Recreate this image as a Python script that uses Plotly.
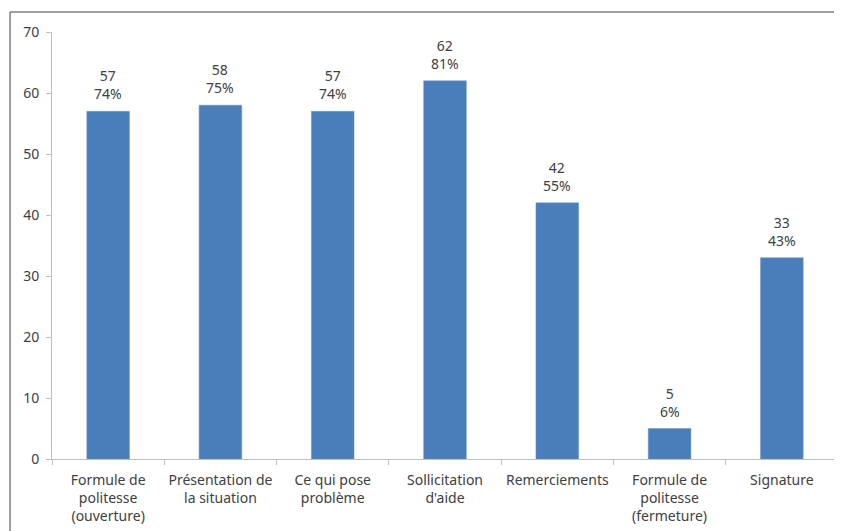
import plotly.graph_objects as go

categories = [
    "Formule de<br>politesse<br>(ouverture)",
    "Présentation de<br>la situation",
    "Ce qui pose<br>problème",
    "Sollicitation<br>d'aide",
    "Remerciements",
    "Formule de<br>politesse<br>(fermeture)",
    "Signature",
]
counts = [57, 58, 57, 62, 42, 5, 33]
percents = ["74%", "75%", "74%", "81%", "55%", "6%", "43%"]
y_ticks = [0, 10, 20, 30, 40, 50, 60, 70]

labels = [f"{c}<br>{p}" for c, p in zip(counts, percents)]

FONT = "Noto Sans"
TXT = "#404040"
AXIS = "#bfbfbf"

fig = go.Figure()
fig.add_trace(go.Bar(
    x=categories,
    y=counts,
    marker=dict(color="#4A7EBB", line=dict(color="#6f95c8", width=0.5)),
    cliponaxis=False,
))

for cat, val, lab in zip(categories, counts, labels):
    fig.add_annotation(
        x=cat, y=val, text=lab, showarrow=False,
        xref="x", yref="y", yanchor="bottom", yshift=6,
        font=dict(family=FONT, size=14, color=TXT),
    )

fig.update_layout(
    width=834, height=523,
    margin=dict(l=44, r=4, t=24, b=72, autoexpand=False),
    paper_bgcolor="white",
    plot_bgcolor="white",
    bargap=0.62,
    showlegend=False,
    font=dict(family=FONT, size=14, color=TXT),
)
fig.update_xaxes(
    type="category",
    showline=True, linecolor=AXIS, linewidth=1,
    ticks="outside", tickson="boundaries", ticklen=5, tickcolor=AXIS,
    tickfont=dict(family=FONT, size=14, color=TXT),
    tickangle=0,
    ticklabelstandoff=8,
    showgrid=False,
)
fig.update_yaxes(
    range=[0, 70],
    tickvals=y_ticks,
    showline=True, linecolor=AXIS, linewidth=1,
    ticks="outside", ticklen=5, tickcolor=AXIS,
    tickfont=dict(family=FONT, size=14, color=TXT),
    ticklabelstandoff=4,
    showgrid=False, zeroline=False,
)

# chart frame (top and left edges visible)
fig.add_shape(type="line", xref="paper", yref="paper",
              x0=-0.0534, x1=1.02, y0=1.0468, y1=1.0468,
              line=dict(color="#7f7f7f", width=1.5))
fig.add_shape(type="line", xref="paper", yref="paper",
              x0=-0.0534, x1=-0.0534, y0=1.0468, y1=-0.2,
              line=dict(color="#7f7f7f", width=1.5))

fig.write_html("out.html")
